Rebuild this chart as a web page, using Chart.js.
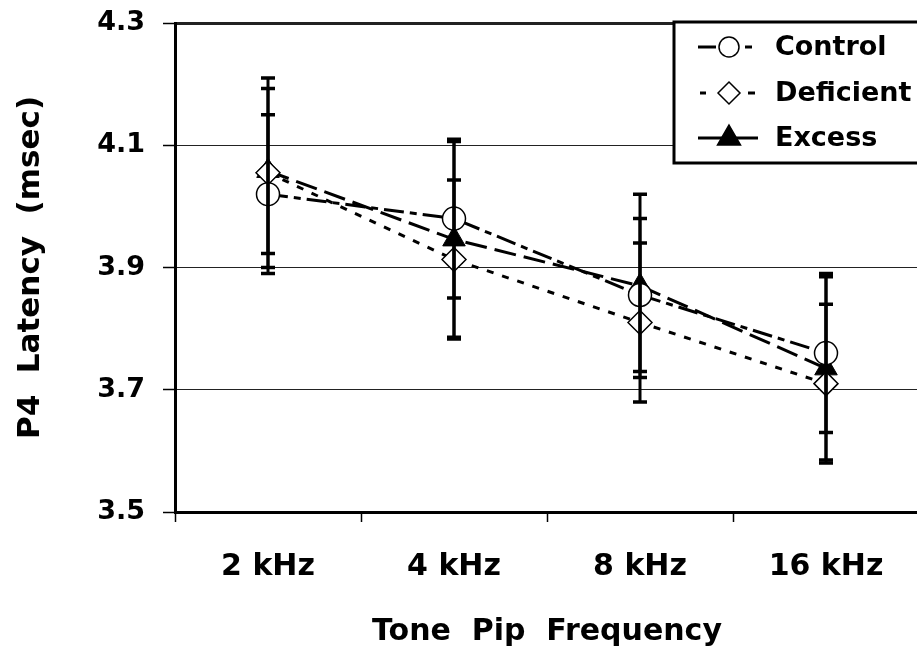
<!DOCTYPE html>
<html>
<head>
<meta charset="utf-8">
<script src="https://cdn.jsdelivr.net/npm/chart.js@4.4.1/dist/chart.umd.min.js"></script>
<style>
  html, body { margin: 0; padding: 0; background: #fff; overflow: hidden; }
  #wrap { width: 920px; height: 652px; }
</style>
</head>
<body>
<div id="wrap"><canvas id="LineChart" width="920" height="652"></canvas></div>
<script>
// values
const frequencies = ['2 kHz', '4 kHz', '8 kHz', '16 kHz'];
const control = [4.02, 3.98, 3.855, 3.76];
const deficient = [4.055, 3.913, 3.81, 3.71];
const excess = [4.058, 3.946, 3.87, 3.735];
const controlErr = [0.13, 0.13, 0.125, 0.13];
const deficientErr = [0.155, 0.13, 0.13, 0.13];
const excessErr = [0.135, 0.16, 0.15, 0.15];
const yTicks = [3.5, 3.7, 3.9, 4.1, 4.3];

const FONT = 'DejaVu Sans';
Chart.defaults.font.family = FONT;
Chart.defaults.font.weight = 'bold';
Chart.defaults.color = '#000';

// error bars (drawn over the markers like the original)
const errorBars = {
  id: 'errorBars',
  afterDatasetsDraw(chart) {
    const ctx = chart.ctx;
    const y = chart.scales.y;
    ctx.save();
    ctx.strokeStyle = '#000';
    ctx.setLineDash([]);
    chart.data.datasets.forEach((ds, i) => {
      const meta = chart.getDatasetMeta(i);
      meta.data.forEach((pt, j) => {
        const hi = y.getPixelForValue(ds.data[j] + ds.err[j]);
        const lo = y.getPixelForValue(ds.data[j] - ds.err[j]);
        ctx.lineWidth = 3;
        ctx.beginPath();
        ctx.moveTo(pt.x, hi); ctx.lineTo(pt.x, lo);
        ctx.stroke();
        ctx.lineWidth = 3.5;
        ctx.beginPath();
        ctx.moveTo(pt.x - 7, hi); ctx.lineTo(pt.x + 7, hi);
        ctx.moveTo(pt.x - 7, lo); ctx.lineTo(pt.x + 7, lo);
        ctx.stroke();
      });
    });
    ctx.restore();
  }
};

// boxed legend in the top right corner
const boxLegend = {
  id: 'boxLegend',
  afterDraw(chart) {
    const ctx = chart.ctx;
    const left = 674, top = 22, bottom = 163;
    ctx.save();
    ctx.fillStyle = '#fff';
    ctx.fillRect(left, top, 260, bottom - top);
    ctx.strokeStyle = '#000';
    ctx.lineWidth = 3;
    ctx.strokeRect(left, top, 260, bottom - top);

    const rows = [47, 93, 138];
    const samples = [
      [[698, 716], [745, 752]],
      [[700, 706], [748, 755]],
      [[698, 758]]
    ];
    chart.data.datasets.forEach((ds, i) => {
      const yy = rows[i];
      const cx = 729;
      ctx.lineWidth = 3;
      ctx.strokeStyle = '#000';
      samples[i].forEach(s => {
        ctx.beginPath(); ctx.moveTo(s[0], yy); ctx.lineTo(s[1], yy); ctx.stroke();
      });
      ctx.lineWidth = 1.5;
      ctx.beginPath();
      if (ds.pointStyle === 'circle') {
        ctx.arc(cx, yy, 10, 0, Math.PI * 2);
        ctx.fillStyle = '#fff';
      } else if (ds.pointStyle === 'rectRot') {
        ctx.moveTo(cx - 11, yy); ctx.lineTo(cx, yy - 11);
        ctx.lineTo(cx + 11, yy); ctx.lineTo(cx, yy + 11); ctx.closePath();
        ctx.fillStyle = '#fff';
      } else {
        ctx.moveTo(cx, yy - 13); ctx.lineTo(cx + 11.5, yy + 7);
        ctx.lineTo(cx - 11.5, yy + 7); ctx.closePath();
        ctx.fillStyle = '#000';
      }
      ctx.fill(); ctx.stroke();
      ctx.fillStyle = '#000';
      ctx.font = 'bold 27px ' + FONT;
      ctx.textBaseline = 'middle';
      ctx.textAlign = 'left';
      ctx.fillText(ds.label, 775, yy + 1);
    });
    ctx.restore();
  }
};

const data = {
  labels: frequencies,
  datasets: [{
    label: 'Control',
    data: control,
    err: controlErr,
    borderColor: '#000',
    borderWidth: 3,
    borderDash: [20, 6, 7, 6],
    pointStyle: 'circle',
    pointRadius: 11.5,
    pointBackgroundColor: '#fff',
    pointBorderColor: '#000',
    pointBorderWidth: 1.5
  }, {
    label: 'Deficient',
    data: deficient,
    err: deficientErr,
    borderColor: '#000',
    borderWidth: 3,
    borderDash: [7, 9],
    pointStyle: 'rectRot',
    pointRadius: 12,
    pointBackgroundColor: '#fff',
    pointBorderColor: '#000',
    pointBorderWidth: 1.5
  }, {
    label: 'Excess',
    data: excess,
    err: excessErr,
    borderColor: '#000',
    borderWidth: 3,
    borderDash: [22, 8],
    pointStyle: 'triangle',
    pointRadius: 13,
    pointBackgroundColor: '#000',
    pointBorderColor: '#000',
    pointBorderWidth: 1
  }]
};

const config = {
  type: 'line',
  data: data,
  options: {
    responsive: false,
    animation: false,
    layout: { autoPadding: false, padding: { left: 0, top: 23, right: 1, bottom: 0 } },
    plugins: {
      legend: { display: false },
      tooltip: { enabled: false }
    },
    scales: {
      x: {
        offset: true,
        afterFit: s => { s.height = 140; s.paddingLeft = 0; s.paddingRight = 0; },
        grid: { offset: true, drawOnChartArea: false, drawTicks: true, tickLength: 10, tickWidth: 1.5, tickColor: '#000' },
        border: { display: true, width: 3, color: '#000' },
        ticks: { padding: 27, font: { size: 30, weight: 'bold' }, color: '#000' },
        title: { display: true, text: 'Tone  Pip  Frequency', font: { size: 30, weight: 'bold' }, color: '#000', padding: { top: 0, bottom: 2 } }
      },
      y: {
        min: 3.5,
        max: 4.3,
        afterFit: s => { s.width = 175; s.paddingTop = 0; s.paddingBottom = 0; },
        afterBuildTicks: s => { s.ticks = yTicks.map(v => ({ value: v })); },
        grid: {
          color: '#222',
          lineWidth: c => (c.index === yTicks.length - 1 ? 3 : 1),
          tickLength: 12, tickWidth: 1.5, tickColor: '#000'
        },
        border: { display: true, width: 3, color: '#000' },
        ticks: { padding: 18, font: { size: 27, weight: 'bold' }, color: '#000', callback: v => v.toFixed(1) },
        title: { display: true, text: 'P4  Latency  (msec)', font: { size: 31, weight: 'bold' }, color: '#000', padding: { top: 12, bottom: 0 } }
      }
    }
  },
  plugins: [errorBars, boxLegend]
};

new Chart(document.getElementById('LineChart'), config);
</script>
</body>
</html>
